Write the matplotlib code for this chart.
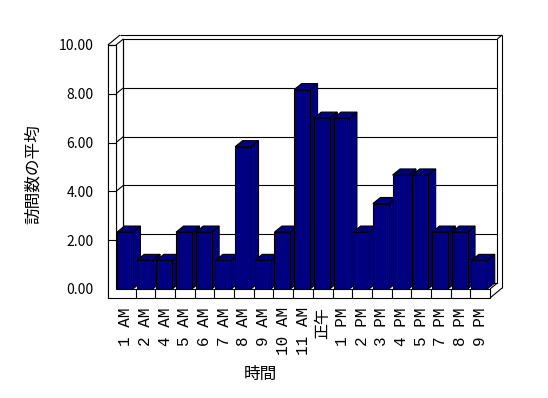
import matplotlib
matplotlib.use("Agg")
import matplotlib.pyplot as plt
from matplotlib.patches import Polygon

plt.rcParams['font.family'] = ['Noto Sans CJK JP', 'DejaVu Sans']

hours = ['1 AM', '2 AM', '4 AM', '5 AM', '6 AM', '7 AM', '8 AM', '9 AM',
         '10 AM', '11 AM', '正午', '1 PM', '2 PM', '3 PM', '4 PM', '5 PM',
         '7 PM', '8 PM', '9 PM']
visits = [2.33, 1.17, 1.17, 2.33, 2.33, 1.17, 5.83, 1.17, 2.33, 8.17,
          7.0, 7.0, 2.33, 3.5, 4.67, 4.67, 2.33, 2.33, 1.17]
yticks = [0, 2, 4, 6, 8, 10]

navy = '#000080'
lw = 0.8

# pseudo 3d geometry, in data units
bar_off, bar_w = 0.05, 0.81
dx, dy = 0.38, 0.25      # depth of bars / inner back wall
dx2, dy2 = 0.61, 0.41    # outer edge of walls
wall = 0.41              # left wall thickness
floor = 0.37             # floor thickness

fig = plt.figure(figsize=(5.48, 3.98), dpi=100)
ax = fig.add_axes([116 / 548, 109 / 398, 374 / 548, 244 / 398])
n = len(hours)
x_lo, x_hi = -0.5, n - 0.5
y_hi = yticks[-1]
ax.set_xlim(x_lo, x_hi)
ax.set_ylim(0, y_hi)
for s in ax.spines.values():
    s.set_visible(False)
ax.patch.set_visible(False)


def line(xs, ys, z=2):
    ax.plot(xs, ys, color='black', lw=lw, clip_on=False, zorder=z,
            solid_capstyle='butt')


def poly(pts, fc='white', z=1):
    ax.add_patch(Polygon(pts, closed=True, fc=fc, ec='black', lw=lw,
                         clip_on=False, zorder=z, joinstyle='miter'))


# back wall
poly([(x_lo + dx, dy), (x_hi + dx, dy), (x_hi + dx, y_hi + dy),
      (x_lo + dx, y_hi + dy)], z=1)
for v in yticks[1:-1]:
    line([x_lo + dx, x_hi + dx], [v + dy, v + dy])
for v in yticks[1:]:
    line([x_lo, x_lo + dx], [v, v + dy])
    line([x_lo - wall, x_lo], [v, v])

# left wall
line([x_lo - wall, x_lo - wall], [-floor, y_hi])
line([x_lo, x_lo], [0, y_hi])
line([x_lo + dx, x_lo + dx], [dy, y_hi + dy])
line([x_lo, x_lo + dx], [0, dy])
line([x_lo - wall, x_lo - wall + dx2], [y_hi, y_hi + dy2])

# top and right edges
line([x_lo - wall + dx2, x_hi + dx2], [y_hi + dy2, y_hi + dy2])
line([x_hi + dx, x_hi + dx2], [y_hi + dy, y_hi + dy2])
line([x_hi + dx2, x_hi + dx2], [y_hi + dy2, dy2 - floor])
line([x_hi, x_hi + dx2], [-floor, dy2 - floor])
line([x_hi, x_hi + dx], [0, dy])
line([x_hi, x_hi], [-floor, 0])

# bars
lefts = [i - 0.5 + bar_off for i in range(n)]
bars = ax.bar(lefts, visits, width=bar_w, align='edge', color=navy,
              edgecolor='black', linewidth=lw, clip_on=False)
for i, (p, x0, v) in enumerate(zip(bars.patches, lefts, visits)):
    z = 3 + i * 0.1
    x1 = x0 + bar_w
    poly([(x1, 0), (x1 + dx, dy), (x1 + dx, v + dy), (x1, v)], fc=navy, z=z)
    poly([(x0, v), (x1, v), (x1 + dx, v + dy), (x0 + dx, v + dy)], fc=navy, z=z)
    p.set_zorder(z + 0.05)

# floor front face
poly([(x_lo - wall, -floor), (x_hi, -floor), (x_hi, 0), (x_lo, 0),
      (x_lo, y_hi), (x_lo - wall, y_hi)], z=10)
for v in yticks[1:]:
    line([x_lo - wall, x_lo], [v, v], z=11)
for k in range(1, n):
    line([k - 0.5, k - 0.5], [-floor, 0], z=11)

ax.set_yticks(yticks)
ax.set_yticklabels([f'{v:.2f}' for v in yticks], fontsize=10)
ax.set_xticks(range(n))
ax.set_xticklabels(hours, rotation=90, fontsize=11.5,
                   family=['Liberation Mono', 'Noto Sans CJK JP'])
ax.tick_params(axis='y', length=0, pad=16)
ax.tick_params(axis='x', length=0, pad=13)

ax.set_ylabel('訪問数の平均', fontsize=12, va='center')
ax.yaxis.set_label_coords(-0.222, 0.47)
ax.set_xlabel('時間', fontsize=12, va='center')
ax.xaxis.set_label_coords(0.385, -0.352)

fig.savefig('out.png', dpi=100)
